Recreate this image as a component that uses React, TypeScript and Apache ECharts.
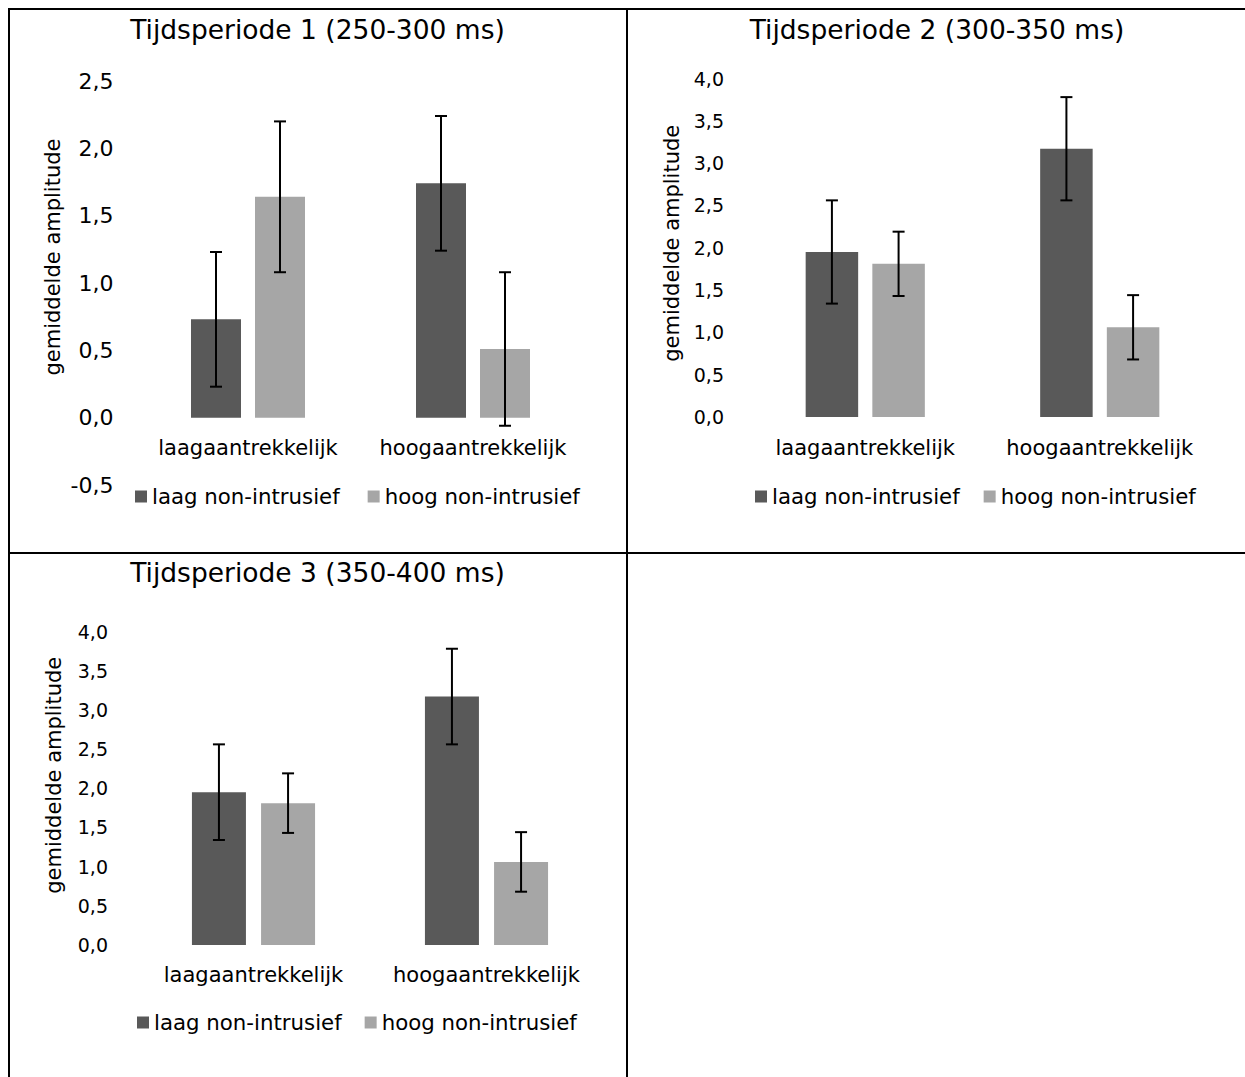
import React, { useEffect, useRef } from 'react';
import * as echarts from 'echarts';

const categories = ['laagaantrekkelijk', 'hoogaantrekkelijk'];
const seriesNames = ['laag non-intrusief', 'hoog non-intrusief'];
const titles = ['Tijdsperiode 1 (250-300 ms)', 'Tijdsperiode 2 (300-350 ms)', 'Tijdsperiode 3 (350-400 ms)'];
const yAxisName = 'gemiddelde amplitude';

// Tijdsperiode 1
const p1Laag = [0.73, 1.74];
const p1Hoog = [1.64, 0.51];
const p1LaagErr = [0.5, 0.5];
const p1HoogErr = [0.56, 0.57];
// Tijdsperiode 2
const p2Laag = [1.95, 3.17];
const p2Hoog = [1.81, 1.06];
const p2LaagErr = [0.61, 0.61];
const p2HoogErr = [0.38, 0.38];
// Tijdsperiode 3
const p3Laag = [1.95, 3.17];
const p3Hoog = [1.81, 1.06];
const p3LaagErr = [0.61, 0.61];
const p3HoogErr = [0.38, 0.38];

// y axis scales
const yMin = [-0.5, 0, 0];
const yMax = [2.5, 4, 4];
const yInterval = [0.5, 0.5, 0.5];

const FONT = 'DejaVu Sans, Verdana, sans-serif';
const DARK = '#595959';
const LIGHT = '#a6a6a6';

const fmt = (v: number) => v.toFixed(1).replace('.', ',');

type Panel = {
  laag: number[]; hoog: number[]; laagErr: number[]; hoogErr: number[];
  grid: { left: number; top: number; width: number; height: number };
  barWidth: number; gap: number;
  tickFont: number; tickMargin: number; catMargin: number;
  nameGap: number; nameShift: number;
  titleX: number; titleY: number;
  legendLeft: number; legendTop: number; legendGap: number;
};

const panels: Panel[] = [
  {
    laag: p1Laag, hoog: p1Hoog, laagErr: p1LaagErr, hoogErr: p1HoogErr,
    grid: { left: 135.5, top: 81, width: 450, height: 404 },
    barWidth: 50, gap: 0.28,
    // category labels sit next to the zero line (above the -0,5 tick)
    tickFont: 22, tickMargin: 22, catMargin: -48,
    nameGap: 72, nameShift: 52,
    titleX: 317.5, titleY: 16,
    legendLeft: 135, legendTop: 486, legendGap: 28,
  },
  {
    laag: p2Laag, hoog: p2Hoog, laagErr: p2LaagErr, hoogErr: p2HoogErr,
    grid: { left: 748, top: 78.5, width: 469, height: 338.5 },
    barWidth: 52.5, gap: 0.27,
    tickFont: 19, tickMargin: 24, catMargin: 20,
    nameGap: 66, nameShift: 9,
    titleX: 937, titleY: 16,
    legendLeft: 755, legendTop: 486, legendGap: 24,
  },
  {
    laag: p3Laag, hoog: p3Hoog, laagErr: p3LaagErr, hoogErr: p3HoogErr,
    grid: { left: 137, top: 631.5, width: 466, height: 313.5 },
    barWidth: 54, gap: 0.28,
    tickFont: 19, tickMargin: 29, catMargin: 19,
    nameGap: 73, nameShift: 26,
    titleX: 317.5, titleY: 559,
    legendLeft: 137, legendTop: 1012, legendGap: 23,
  },
];

function errorSeries(idx: number, values: number[], errs: number[], offset: number) {
  return {
    type: 'custom',
    xAxisIndex: idx,
    yAxisIndex: idx,
    silent: true,
    z: 10,
    encode: { x: 0, y: [1, 2] },
    data: values.map((v, i) => [i, v - errs[i], v + errs[i]]),
    renderItem: (_params: any, api: any) => {
      const lo = api.coord([api.value(0), api.value(1)]);
      const hi = api.coord([api.value(0), api.value(2)]);
      const x = lo[0] + offset;
      const hw = 6;
      const style = { stroke: '#000', lineWidth: 2 };
      return {
        type: 'group',
        children: [
          { type: 'line', shape: { x1: x, y1: hi[1], x2: x, y2: lo[1] }, style },
          { type: 'line', shape: { x1: x - hw, y1: hi[1], x2: x + hw, y2: hi[1] }, style },
          { type: 'line', shape: { x1: x - hw, y1: lo[1], x2: x + hw, y2: lo[1] }, style },
        ],
      };
    },
  };
}

function buildOption() {
  const grid: any[] = [];
  const xAxis: any[] = [];
  const yAxis: any[] = [];
  const series: any[] = [];
  const title: any[] = [];
  const legend: any[] = [];

  panels.forEach((p, i) => {
    grid.push({ ...p.grid, containLabel: false });
    xAxis.push({
      type: 'category',
      gridIndex: i,
      data: categories,
      axisLine: { show: false, onZero: false },
      axisTick: { show: false },
      axisLabel: {
        interval: 0, hideOverlap: false,
        fontSize: 21, color: '#000', fontFamily: FONT, margin: p.catMargin,
      },
      splitLine: { show: false },
    });
    yAxis.push({
      type: 'value',
      gridIndex: i,
      min: yMin[i],
      max: yMax[i],
      interval: yInterval[i],
      axisLine: { show: false },
      axisTick: { show: false },
      splitLine: { show: false },
      axisLabel: {
        fontSize: p.tickFont, color: '#000', fontFamily: FONT, margin: p.tickMargin,
        formatter: (v: number) => fmt(v),
      },
      name: yAxisName,
      nameLocation: 'middle',
      nameGap: p.nameGap,
      nameTextStyle: {
        fontSize: 21, color: '#000', fontFamily: FONT,
        padding: [0, 0, 0, p.nameShift],
      },
    });
    const off = (p.barWidth * (1 + p.gap)) / 2;
    series.push({
      type: 'bar', name: seriesNames[0], xAxisIndex: i, yAxisIndex: i,
      data: p.laag, barWidth: p.barWidth, barGap: `${p.gap * 100}%`,
      itemStyle: { color: DARK },
    });
    series.push({
      type: 'bar', name: seriesNames[1], xAxisIndex: i, yAxisIndex: i,
      data: p.hoog, barWidth: p.barWidth, barGap: `${p.gap * 100}%`,
      itemStyle: { color: LIGHT },
    });
    series.push(errorSeries(i, p.laag, p.laagErr, -off));
    series.push(errorSeries(i, p.hoog, p.hoogErr, off));

    title.push({
      text: titles[i],
      left: p.titleX,
      top: p.titleY,
      textAlign: 'center',
      padding: 0,
      textStyle: { fontSize: 26.5, fontWeight: 'normal', color: '#000', fontFamily: FONT },
    });
    legend.push({
      data: seriesNames,
      left: p.legendLeft,
      top: p.legendTop,
      orient: 'horizontal',
      icon: 'rect',
      itemWidth: 12,
      itemHeight: 12,
      itemGap: p.legendGap,
      padding: 0,
      selectedMode: false,
      textStyle: { fontSize: 21.3, color: '#000', fontFamily: FONT },
    });
  });

  const border = { stroke: '#000', lineWidth: 2 };
  const graphic = [
    { type: 'line', silent: true, shape: { x1: 8, y1: 9, x2: 1245, y2: 9 }, style: border },
    { type: 'line', silent: true, shape: { x1: 9, y1: 8, x2: 9, y2: 1077 }, style: border },
    { type: 'line', silent: true, shape: { x1: 627, y1: 8, x2: 627, y2: 1077 }, style: border },
    { type: 'line', silent: true, shape: { x1: 8, y1: 553, x2: 1245, y2: 553 }, style: border },
  ];

  return {
    animation: false,
    backgroundColor: '#fff',
    textStyle: { fontFamily: FONT },
    title,
    legend,
    grid,
    xAxis,
    yAxis,
    series,
    graphic,
  };
}

export default function App() {
  const ref = useRef<HTMLDivElement>(null);
  useEffect(() => {
    if (!ref.current) return;
    const chart = echarts.init(ref.current, undefined, { renderer: 'svg' });
    chart.setOption(buildOption() as any);
    return () => chart.dispose();
  }, []);
  return (
    <div
      ref={ref}
      style={{ position: 'absolute', left: 0, top: 0, width: 1245, height: 1077, background: '#fff' }}
    />
  );
}
